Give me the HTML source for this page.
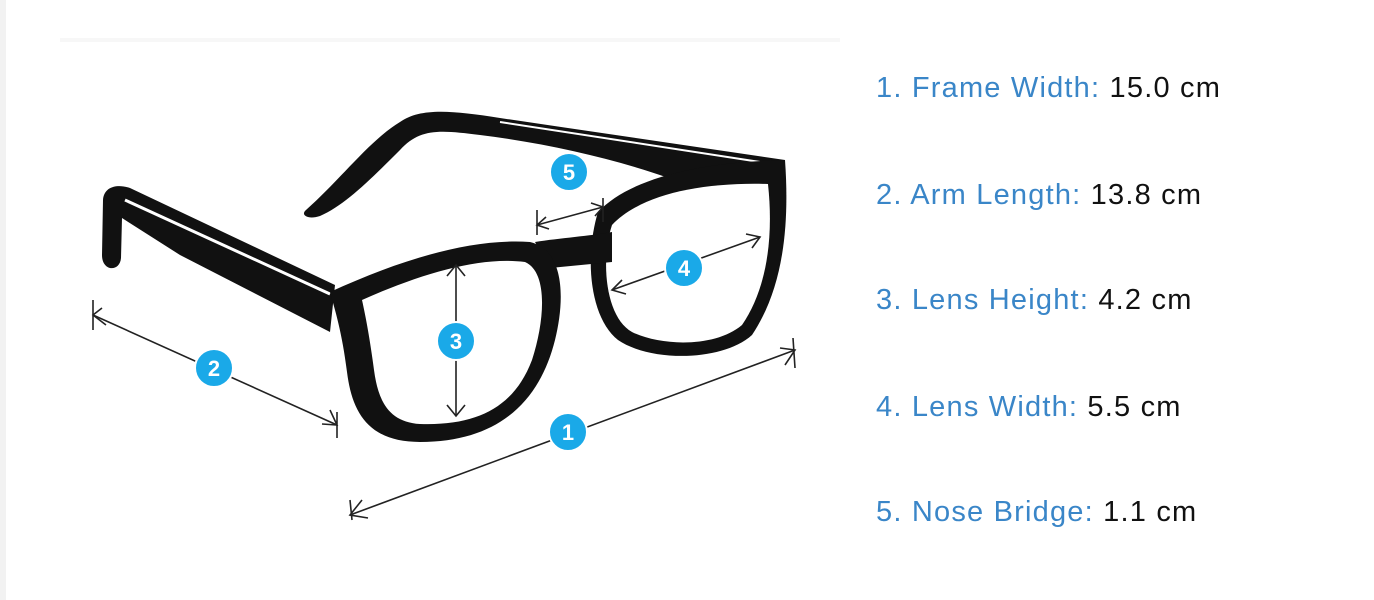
<!DOCTYPE html>
<html><head><style>
body{margin:0;width:1374px;height:600px;background:#fff;overflow:hidden;position:relative;font-family:"Liberation Sans",sans-serif}
.strip{position:absolute;left:0;top:0;width:6px;height:600px;background:#f2f2f2}
.t{position:absolute;left:876px;font-size:29px;letter-spacing:1.2px;color:#111;white-space:nowrap}
.t b{font-weight:normal;color:#3a86c8}
</style></head><body>
<div class="strip"></div>
<svg width="1374" height="600" style="position:absolute;left:0;top:0">
<rect x="60" y="38" width="780" height="4" fill="#f7f7f7"/>
<!-- back temple -->
<path d="M306,210 C340,180 370,140 400,122 C420,108 450,110 500,118 L785,160 L780,185 L700,190 C640,165 560,145 480,135 C440,130 420,128 400,150 C370,180 345,205 320,216 C308,220 300,215 306,210 Z" fill="#111"/>
<path d="M500,122 L760,162" stroke="#fff" stroke-width="2"/>
<!-- left temple -->
<path d="M335,285 L130,188 C118,184 104,186 103,200 L102,255 C102,272 120,272 121,258 L122,218 L180,255 L330,332 Z" fill="#111"/>
<path d="M330,294 L125,200" stroke="#fff" stroke-width="3"/>
<!-- right lens -->
<path d="M598,212 C630,178 700,162 785,160 C790,230 782,290 752,335 C722,362 650,362 618,340 C590,318 584,258 598,212 Z" fill="#111"/>
<path d="M612,225 C640,195 700,182 768,184 C774,240 766,290 742,325 C715,348 660,346 632,332 C606,318 600,262 612,225 Z" fill="#fff"/>
<!-- bridge -->
<path d="M535,242 C560,238 590,236 612,232 L612,262 L550,268 Z" fill="#111"/>
<!-- left lens -->
<path d="M330,292 C400,260 470,238 530,242 C565,250 565,300 555,340 C540,400 500,442 420,442 C368,442 352,412 347,372 C342,332 335,310 330,292 Z" fill="#111"/>
<path d="M362,300 C420,274 480,256 525,262 C548,272 545,320 532,360 C515,405 480,426 420,424 C388,422 378,400 374,370 C370,340 366,318 362,300 Z" fill="#fff"/>
<g stroke="#222" stroke-width="1.6" fill="none">
<line x1="350" y1="515" x2="795" y2="350"/><path d="M362,500 L350,515 L368,518 M350,500 L352,520 M780,348 L795,350 L785,365 M793,338 L795,368"/>
<line x1="93" y1="315" x2="337" y2="425"/><path d="M102,308 L93,315 L106,325 M93,300 L93,330 M322,424 L337,425 L330,410 M337,412 L337,438"/>
<line x1="456" y1="265" x2="456" y2="416"/><path d="M447,276 L456,265 L465,276 M447,405 L456,416 L465,405"/>
<line x1="612" y1="290" x2="760" y2="237"/><path d="M622,280 L612,290 L626,294 M746,234 L760,237 L752,248"/>
<line x1="537" y1="225" x2="603" y2="207"/><path d="M546,217 L537,225 L549,229 M591,203 L603,207 L595,216 M537,210 L537,235 M603,198 L603,222"/>
</g>
<g fill="#1aa9e8" stroke="#fff" stroke-width="2">
<circle cx="568" cy="432" r="19"/><circle cx="214" cy="368" r="19"/><circle cx="456" cy="341" r="19"/><circle cx="684" cy="268" r="19"/><circle cx="569" cy="172" r="19"/>
</g>
<g fill="#fff" font-family="Liberation Sans" font-weight="bold" font-size="22" text-anchor="middle">
<text x="568" y="440">1</text><text x="214" y="376">2</text><text x="456" y="349">3</text><text x="684" y="276">4</text><text x="569" y="180">5</text>
</g>
</svg>
<div class="t" style="top:72px"><b>1. Frame Width:</b> 15.0 cm</div>
<div class="t" style="top:179px"><b>2. Arm Length:</b> 13.8 cm</div>
<div class="t" style="top:284px"><b>3. Lens Height:</b> 4.2 cm</div>
<div class="t" style="top:391px"><b>4. Lens Width:</b> 5.5 cm</div>
<div class="t" style="top:496px"><b>5. Nose Bridge:</b> 1.1 cm</div>
</body></html>
